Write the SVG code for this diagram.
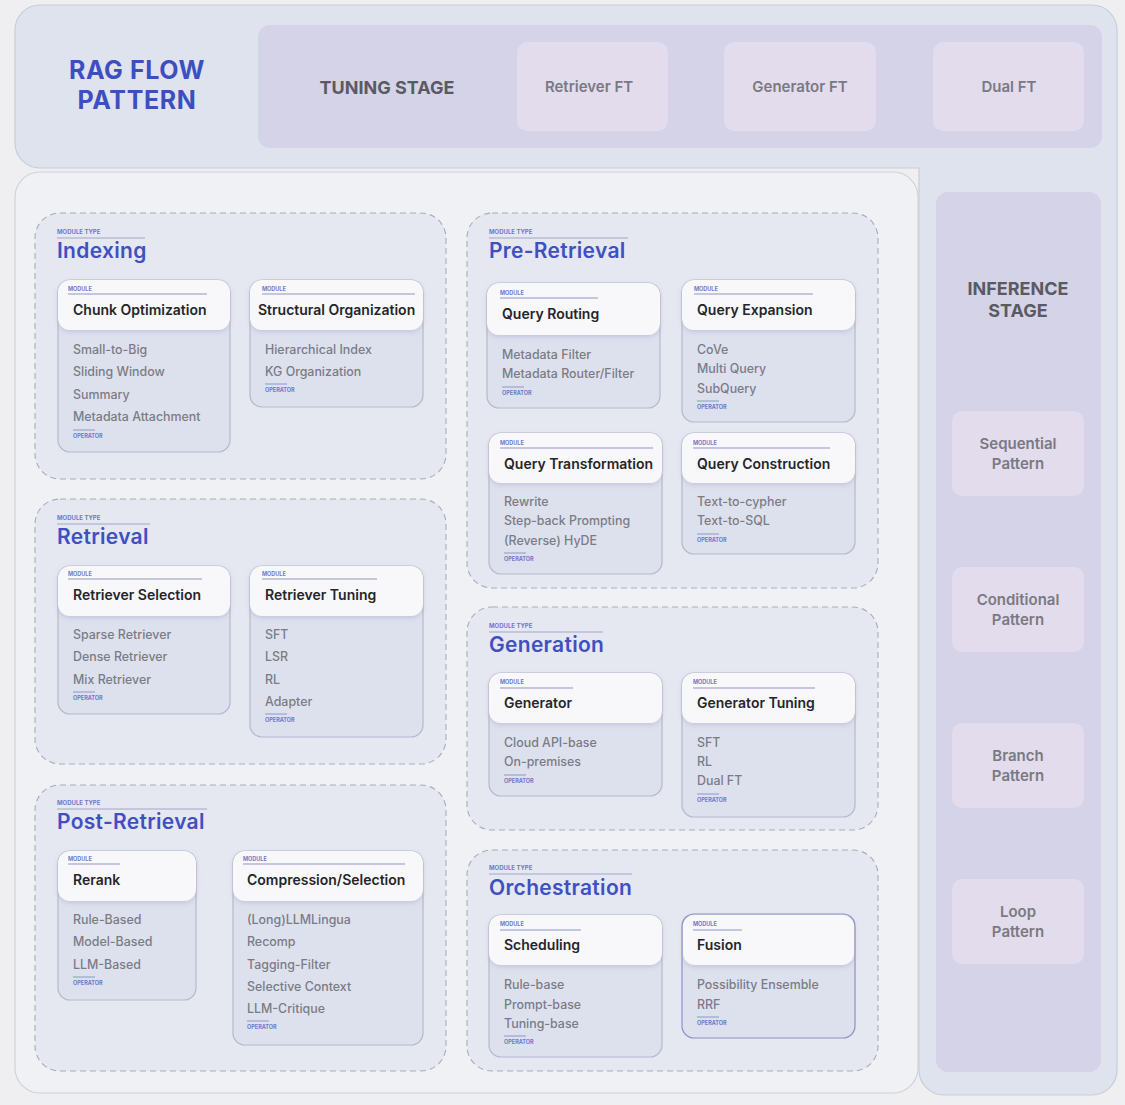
<svg xmlns="http://www.w3.org/2000/svg" width="1125" height="1105" viewBox="0 0 1125 1105">
<defs>
<filter id="sh" x="-10%" y="-20%" width="120%" height="160%">
<feDropShadow dx="0" dy="2" stdDeviation="2.5" flood-color="#8d92b0" flood-opacity="0.35"/>
</filter>
<style>
text{font-family:Inter,"Noto Sans","Liberation Sans",sans-serif}
.bg{fill:#efeff2}
.outer{fill:#dfe3ee;stroke:#c9cdd9;stroke-width:1.2}
.main{fill:#f0f1f5;stroke:#cfd2dc;stroke-width:1.2}
.stage{fill:#d5d3e7}
.pbox{fill:#e2dcec}
.ptxt{font-size:15px;font-weight:600;fill:#7a7983;text-anchor:middle}
.stxt{font-size:18px;font-weight:700;fill:#5a5a64;text-anchor:middle}
.grp{fill:#e5e7f1;stroke:#a9acba;stroke-width:1.1;stroke-dasharray:6 4}
.mt{font-size:6px;font-weight:700;fill:#7079c9}
.gt{font-size:21px;font-weight:600;fill:#3f50c0;letter-spacing:0.3px}
.gl{stroke:#a3a8c8;stroke-width:1.2}
.card{fill:#dde1ee;stroke:#b5b9cb;stroke-width:1.2}
.fus{stroke:#8d92c4}
.head{fill:#f8f8fa;filter:url(#sh)}
.ml{font-size:5.5px;font-weight:700;fill:#7079c9}
.ct{font-size:14px;font-weight:600;fill:#25252b}
.it{font-size:12.4px;font-weight:500;fill:#7b7b85}
.ol{stroke:#8f95c4;stroke-width:1}
.op{font-size:5.5px;font-weight:700;fill:#6f78c9}
</style>
</defs>
<rect class="bg" x="0" y="0" width="1125" height="1105"/>

<g id="frame">
<path class="outer" d="M40,5 H1092 A25,25 0 0 1 1117,30 V1070 A25,25 0 0 1 1092,1095 H944 A25,25 0 0 1 919,1070 V168 H40 A25,25 0 0 1 15,143 V30 A25,25 0 0 1 40,5 Z"/>
<rect class="main" x="15" y="172" width="903" height="921" rx="25"/>
</g>

<g id="title">
<text x="137" y="79" font-size="25" font-weight="700" fill="#3d4fc0" text-anchor="middle" letter-spacing="0.6">RAG FLOW</text>
<text x="137" y="109" font-size="25" font-weight="700" fill="#3d4fc0" text-anchor="middle" letter-spacing="0.6">PATTERN</text>
</g>

<g id="tuning-stage">
<rect class="stage" x="258" y="25" width="844" height="123" rx="12"/>
<text class="stxt" x="387" y="94">TUNING STAGE</text>
</g>
<g id="retriever-ft"><rect class="pbox" x="517" y="42" width="151" height="89" rx="10"/><text class="ptxt" x="589" y="92">Retriever FT</text></g>
<g id="generator-ft"><rect class="pbox" x="724" y="42" width="152" height="89" rx="10"/><text class="ptxt" x="800" y="92">Generator FT</text></g>
<g id="dual-ft"><rect class="pbox" x="933" y="42" width="151" height="89" rx="10"/><text class="ptxt" x="1009" y="92">Dual FT</text></g>

<g id="inference-stage">
<rect class="stage" x="936" y="192" width="165" height="880" rx="12"/>
<text class="stxt" x="1018" y="295" font-size="17">INFERENCE</text>
<text class="stxt" x="1018" y="317" font-size="17">STAGE</text>
</g>
<g id="sequential"><rect class="pbox" x="952" y="411" width="132" height="85" rx="10"/><text class="ptxt" x="1018" y="449">Sequential</text><text class="ptxt" x="1018" y="469">Pattern</text></g>
<g id="conditional"><rect class="pbox" x="952" y="567" width="132" height="85" rx="10"/><text class="ptxt" x="1018" y="605">Conditional</text><text class="ptxt" x="1018" y="625">Pattern</text></g>
<g id="branch"><rect class="pbox" x="952" y="723" width="132" height="85" rx="10"/><text class="ptxt" x="1018" y="761">Branch</text><text class="ptxt" x="1018" y="781">Pattern</text></g>
<g id="loop"><rect class="pbox" x="952" y="879" width="132" height="85" rx="10"/><text class="ptxt" x="1018" y="917">Loop</text><text class="ptxt" x="1018" y="937">Pattern</text></g>

<!-- module type groups -->
<g id="indexing">
<rect class="grp" x="35" y="213" width="411" height="266" rx="25"/>
<text class="mt" x="57" y="234">MODULE TYPE</text><line class="gl" x1="57" y1="238" x2="145" y2="238"/>
<text class="gt" x="57" y="258">Indexing</text>
</g>
<g id="retrieval">
<rect class="grp" x="35" y="499" width="411" height="265" rx="25"/>
<text class="mt" x="57" y="520">MODULE TYPE</text><line class="gl" x1="57" y1="524" x2="150" y2="524"/>
<text class="gt" x="57" y="544">Retrieval</text>
</g>
<g id="post-retrieval">
<rect class="grp" x="35" y="785" width="411" height="286" rx="25"/>
<text class="mt" x="57" y="805">MODULE TYPE</text><line class="gl" x1="57" y1="809" x2="207" y2="809"/>
<text class="gt" x="57" y="829">Post-Retrieval</text>
</g>
<g id="pre-retrieval">
<rect class="grp" x="467" y="213" width="411" height="375" rx="25"/>
<text class="mt" x="489" y="234">MODULE TYPE</text><line class="gl" x1="489" y1="238" x2="628" y2="238"/>
<text class="gt" x="489" y="258">Pre-Retrieval</text>
</g>
<g id="generation">
<rect class="grp" x="467" y="607" width="411" height="223" rx="25"/>
<text class="mt" x="489" y="628">MODULE TYPE</text><line class="gl" x1="489" y1="632" x2="603" y2="632"/>
<text class="gt" x="489" y="652">Generation</text>
</g>
<g id="orchestration">
<rect class="grp" x="467" y="850" width="411" height="221" rx="25"/>
<text class="mt" x="489" y="870">MODULE TYPE</text><line class="gl" x1="489" y1="874" x2="632" y2="874"/>
<text class="gt" x="489" y="895">Orchestration</text>
</g>

<!-- module cards -->
<g id="chunk-optimization">
<rect class="card" x="58" y="280" width="172" height="172" rx="12"/>
<rect class="head" x="58" y="280" width="172" height="50" rx="12"/>
<text class="ml" x="68" y="291">MODULE</text><line class="ol" x1="68" y1="294" x2="207" y2="294"/>
<text class="ct" x="73" y="315">Chunk Optimization</text>
<text class="it" x="73" y="354">Small-to-Big</text>
<text class="it" x="73" y="376">Sliding Window</text>
<text class="it" x="73" y="399">Summary</text>
<text class="it" x="73" y="421">Metadata Attachment</text>
<line class="ol" x1="73" y1="430" x2="95" y2="430"/><text class="op" x="73" y="438">OPERATOR</text>
</g>
<g id="structural-organization">
<rect class="card" x="250" y="280" width="173" height="127" rx="12"/>
<rect class="head" x="250" y="280" width="173" height="50" rx="12"/>
<text class="ml" x="262" y="291">MODULE</text><line class="ol" x1="262" y1="294" x2="415" y2="294"/>
<text class="ct" x="258" y="315">Structural Organization</text>
<text class="it" x="265" y="354">Hierarchical Index</text>
<text class="it" x="265" y="376">KG Organization</text>
<line class="ol" x1="265" y1="384" x2="287" y2="384"/><text class="op" x="265" y="392">OPERATOR</text>
</g>

<g id="retriever-selection">
<rect class="card" x="58" y="566" width="172" height="148" rx="12"/>
<rect class="head" x="58" y="566" width="172" height="50" rx="12"/>
<text class="ml" x="68" y="576">MODULE</text><line class="ol" x1="68" y1="579" x2="202" y2="579"/>
<text class="ct" x="73" y="600">Retriever Selection</text>
<text class="it" x="73" y="639">Sparse Retriever</text>
<text class="it" x="73" y="661">Dense Retriever</text>
<text class="it" x="73" y="684">Mix Retriever</text>
<line class="ol" x1="73" y1="692" x2="95" y2="692"/><text class="op" x="73" y="700">OPERATOR</text>
</g>
<g id="retriever-tuning">
<rect class="card" x="250" y="566" width="173" height="171" rx="12"/>
<rect class="head" x="250" y="566" width="173" height="50" rx="12"/>
<text class="ml" x="262" y="576">MODULE</text><line class="ol" x1="262" y1="579" x2="377" y2="579"/>
<text class="ct" x="265" y="600">Retriever Tuning</text>
<text class="it" x="265" y="639">SFT</text>
<text class="it" x="265" y="661">LSR</text>
<text class="it" x="265" y="684">RL</text>
<text class="it" x="265" y="706">Adapter</text>
<line class="ol" x1="265" y1="714" x2="287" y2="714"/><text class="op" x="265" y="722">OPERATOR</text>
</g>

<g id="rerank">
<rect class="card" x="58" y="851" width="138" height="149" rx="12"/>
<rect class="head" x="58" y="851" width="138" height="50" rx="12"/>
<text class="ml" x="68" y="861">MODULE</text><line class="ol" x1="68" y1="864" x2="120" y2="864"/>
<text class="ct" x="73" y="885">Rerank</text>
<text class="it" x="73" y="924">Rule-Based</text>
<text class="it" x="73" y="946">Model-Based</text>
<text class="it" x="73" y="969">LLM-Based</text>
<line class="ol" x1="73" y1="977" x2="95" y2="977"/><text class="op" x="73" y="985">OPERATOR</text>
</g>
<g id="compression-selection">
<rect class="card" x="233" y="851" width="190" height="194" rx="12"/>
<rect class="head" x="233" y="851" width="190" height="50" rx="12"/>
<text class="ml" x="243" y="861">MODULE</text><line class="ol" x1="243" y1="864" x2="405" y2="864"/>
<text class="ct" x="247" y="885">Compression/Selection</text>
<text class="it" x="247" y="924">(Long)LLMLingua</text>
<text class="it" x="247" y="946">Recomp</text>
<text class="it" x="247" y="969">Tagging-Filter</text>
<text class="it" x="247" y="991">Selective Context</text>
<text class="it" x="247" y="1013">LLM-Critique</text>
<line class="ol" x1="247" y1="1021" x2="269" y2="1021"/><text class="op" x="247" y="1029">OPERATOR</text>
</g>

<g id="query-routing">
<rect class="card" x="487" y="283" width="173" height="125" rx="12"/>
<rect class="head" x="487" y="283" width="173" height="52" rx="12"/>
<text class="ml" x="500" y="295">MODULE</text><line class="ol" x1="500" y1="298" x2="598" y2="298"/>
<text class="ct" x="502" y="319">Query Routing</text>
<text class="it" x="502" y="359">Metadata Filter</text>
<text class="it" x="502" y="378">Metadata Router/Filter</text>
<line class="ol" x1="502" y1="387" x2="524" y2="387"/><text class="op" x="502" y="395">OPERATOR</text>
</g>
<g id="query-expansion">
<rect class="card" x="682" y="280" width="173" height="142" rx="12"/>
<rect class="head" x="682" y="280" width="173" height="50" rx="12"/>
<text class="ml" x="694" y="291">MODULE</text><line class="ol" x1="694" y1="294" x2="813" y2="294"/>
<text class="ct" x="697" y="315">Query Expansion</text>
<text class="it" x="697" y="354">CoVe</text>
<text class="it" x="697" y="373">Multi Query</text>
<text class="it" x="697" y="393">SubQuery</text>
<line class="ol" x1="697" y1="401" x2="719" y2="401"/><text class="op" x="697" y="409">OPERATOR</text>
</g>
<g id="query-transformation">
<rect class="card" x="489" y="433" width="173" height="141" rx="12"/>
<rect class="head" x="489" y="433" width="173" height="50" rx="12"/>
<text class="ml" x="500" y="445">MODULE</text><line class="ol" x1="500" y1="448" x2="653" y2="448"/>
<text class="ct" x="504" y="469">Query Transformation</text>
<text class="it" x="504" y="506">Rewrite</text>
<text class="it" x="504" y="525">Step-back Prompting</text>
<text class="it" x="504" y="545">(Reverse) HyDE</text>
<line class="ol" x1="504" y1="553" x2="526" y2="553"/><text class="op" x="504" y="561">OPERATOR</text>
</g>
<g id="query-construction">
<rect class="card" x="682" y="433" width="173" height="121" rx="12"/>
<rect class="head" x="682" y="433" width="173" height="50" rx="12"/>
<text class="ml" x="693" y="445">MODULE</text><line class="ol" x1="693" y1="448" x2="830" y2="448"/>
<text class="ct" x="697" y="469">Query Construction</text>
<text class="it" x="697" y="506">Text-to-cypher</text>
<text class="it" x="697" y="525">Text-to-SQL</text>
<line class="ol" x1="697" y1="534" x2="719" y2="534"/><text class="op" x="697" y="542">OPERATOR</text>
</g>

<g id="generator">
<rect class="card" x="489" y="673" width="173" height="123" rx="12"/>
<rect class="head" x="489" y="673" width="173" height="50" rx="12"/>
<text class="ml" x="500" y="684">MODULE</text><line class="ol" x1="500" y1="688" x2="573" y2="688"/>
<text class="ct" x="504" y="708">Generator</text>
<text class="it" x="504" y="747">Cloud API-base</text>
<text class="it" x="504" y="766">On-premises</text>
<line class="ol" x1="504" y1="775" x2="526" y2="775"/><text class="op" x="504" y="783">OPERATOR</text>
</g>
<g id="generator-tuning">
<rect class="card" x="682" y="673" width="173" height="144" rx="12"/>
<rect class="head" x="682" y="673" width="173" height="50" rx="12"/>
<text class="ml" x="693" y="684">MODULE</text><line class="ol" x1="693" y1="688" x2="815" y2="688"/>
<text class="ct" x="697" y="708">Generator Tuning</text>
<text class="it" x="697" y="747">SFT</text>
<text class="it" x="697" y="766">RL</text>
<text class="it" x="697" y="785">Dual FT</text>
<line class="ol" x1="697" y1="794" x2="719" y2="794"/><text class="op" x="697" y="802">OPERATOR</text>
</g>

<g id="scheduling">
<rect class="card" x="489" y="915" width="173" height="142" rx="12"/>
<rect class="head" x="489" y="915" width="173" height="50" rx="12"/>
<text class="ml" x="500" y="926">MODULE</text><line class="ol" x1="500" y1="930" x2="581" y2="930"/>
<text class="ct" x="504" y="950">Scheduling</text>
<text class="it" x="504" y="989">Rule-base</text>
<text class="it" x="504" y="1009">Prompt-base</text>
<text class="it" x="504" y="1028">Tuning-base</text>
<line class="ol" x1="504" y1="1036" x2="526" y2="1036"/><text class="op" x="504" y="1044">OPERATOR</text>
</g>
<g id="fusion">
<rect class="card fus" x="682" y="914" width="173" height="124" rx="12"/>
<rect class="head" x="683" y="915" width="171" height="50" rx="12"/>
<text class="ml" x="693" y="926">MODULE</text><line class="ol" x1="693" y1="930" x2="742" y2="930"/>
<text class="ct" x="697" y="950">Fusion</text>
<text class="it" x="697" y="989">Possibility Ensemble</text>
<text class="it" x="697" y="1009">RRF</text>
<line class="ol" x1="697" y1="1017" x2="719" y2="1017"/><text class="op" x="697" y="1025">OPERATOR</text>
</g>

<g id="connectors"></g>
</svg>
